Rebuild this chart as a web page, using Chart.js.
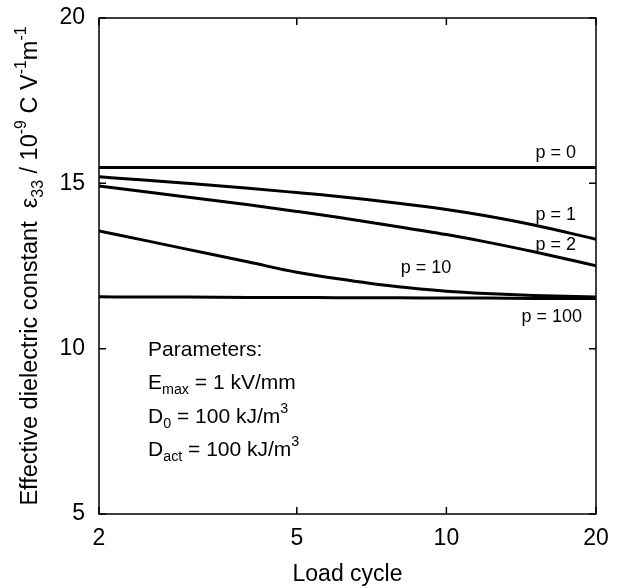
<!DOCTYPE html>
<html><head><meta charset="utf-8">
<script src="https://cdn.jsdelivr.net/npm/chart.js@4/dist/chart.umd.min.js"></script>
<style>html,body{margin:0;padding:0;background:#fff}</style>
</head><body>
<canvas id="c" width="621" height="588"></canvas>
<script>
// ---- data ----
const cycles = [2, 2.5, 3, 4, 5, 6, 8, 10, 12, 15, 20];
const p0   = [15.48, 15.48, 15.48, 15.48, 15.48, 15.48, 15.48, 15.48, 15.48, 15.48, 15.48];
const p1   = [15.20, 15.09, 15.00, 14.85, 14.72, 14.61, 14.40, 14.21, 14.02, 13.74, 13.31];
const p2   = [14.92, 14.74, 14.59, 14.35, 14.15, 13.98, 13.69, 13.45, 13.23, 12.93, 12.51];
const p10  = [13.56, 13.26, 13.01, 12.62, 12.31, 12.12, 11.87, 11.74, 11.67, 11.61, 11.56];
const p100 = [11.57, 11.56, 11.56, 11.55, 11.55, 11.54, 11.54, 11.53, 11.53, 11.52, 11.52];
const seriesNames = ['p = 0', 'p = 1', 'p = 2', 'p = 10', 'p = 100'];
const xTickValues = [2, 5, 10, 20];
const yTickValues = [5, 10, 15, 20];
const xTitle = 'Load cycle';

const FONT = '"Liberation Sans", Arial, Helvetica, sans-serif';
const allSeries = [p0, p1, p2, p10, p100];

const datasets = allSeries.map((vals, i) => ({
  label: seriesNames[i],
  data: cycles.map((c, j) => ({x: c, y: vals[j]})),
  borderColor: '#000',
  borderWidth: 3,
  pointRadius: 0,
  fill: false,
  cubicInterpolationMode: 'monotone'
}));

function richWidth(ctx, segs, size) {
  let w = 0;
  segs.forEach(s => {
    ctx.font = (s.s ? size * 0.68 : size) + 'px ' + FONT;
    w += ctx.measureText(s.t).width;
  });
  return w;
}
function drawRich(ctx, segs, x, y, size) {
  let cx = x;
  ctx.textBaseline = 'middle';
  ctx.textAlign = 'left';
  segs.forEach(s => {
    const sz = s.s ? size * 0.68 : size;
    ctx.font = sz + 'px ' + FONT;
    let dy = 0;
    if (s.s === 'sub') dy = size * 0.34;
    if (s.s === 'sup') dy = -size * 0.38;
    ctx.fillText(s.t, cx, y + dy);
    cx += ctx.measureText(s.t).width;
  });
}

const decor = {
  id: 'decor',
  afterDatasetsDraw(chart) {
    const {ctx, chartArea: a, scales: {x, y}} = chart;
    ctx.save();
    ctx.strokeStyle = '#000';
    ctx.lineWidth = 1.5;
    ctx.strokeRect(a.left, a.top, a.right - a.left, a.bottom - a.top);
    const tl = 7;
    ctx.beginPath();
    xTickValues.forEach(v => {
      const px = x.getPixelForValue(v);
      ctx.moveTo(px, a.bottom); ctx.lineTo(px, a.bottom - tl);
      ctx.moveTo(px, a.top); ctx.lineTo(px, a.top + tl);
    });
    yTickValues.forEach(v => {
      const py = y.getPixelForValue(v);
      ctx.moveTo(a.left, py); ctx.lineTo(a.left + tl, py);
      ctx.moveTo(a.right, py); ctx.lineTo(a.right - tl, py);
    });
    ctx.stroke();

    ctx.fillStyle = '#000';
    ctx.font = '18px ' + FONT;
    ctx.textAlign = 'center';
    ctx.textBaseline = 'middle';
    const anchors = [[16.6, 15.93], [16.6, 14.04], [16.6, 13.13], [9.1, 12.43], [16.3, 10.97]];
    seriesNames.forEach((n, i) => {
      ctx.fillText(n, x.getPixelForValue(anchors[i][0]), y.getPixelForValue(anchors[i][1]));
    });

    const px0 = x.getPixelForValue(2.51);
    const psize = 21;
    const lines = [
      [{t: 'Parameters:'}],
      [{t: 'E'}, {t: 'max', s: 'sub'}, {t: ' = 1 kV/mm'}],
      [{t: 'D'}, {t: '0', s: 'sub'}, {t: ' = 100 kJ/m'}, {t: '3', s: 'sup'}],
      [{t: 'D'}, {t: 'act', s: 'sub'}, {t: ' = 100 kJ/m'}, {t: '3', s: 'sup'}]
    ];
    const ly = [9.94, 8.97, 7.94, 6.94];
    lines.forEach((segs, i) => drawRich(ctx, segs, px0, y.getPixelForValue(ly[i]), psize));

    const ysize = 23.5;
    const ysegs = [
      {t: 'Effective dielectric constant  \u03B5'}, {t: '33', s: 'sub'},
      {t: ' / 10'}, {t: '-9', s: 'sup'}, {t: ' C V'}, {t: '-1', s: 'sup'},
      {t: 'm'}, {t: '-1', s: 'sup'}
    ];
    const w = richWidth(ctx, ysegs, ysize);
    ctx.translate(31, 266);
    ctx.rotate(-Math.PI / 2);
    drawRich(ctx, ysegs, -w / 2, 0, ysize);
    ctx.restore();
  }
};

new Chart(document.getElementById('c'), {
  type: 'line',
  data: {datasets},
  options: {
    responsive: false,
    devicePixelRatio: 1,
    animation: false,
    layout: {padding: {top: 18, right: 25, left: 0, bottom: 0}},
    plugins: {legend: {display: false}, tooltip: {enabled: false}},
    scales: {
      x: {
        type: 'logarithmic',
        min: 2, max: 20,
        grid: {display: false, drawTicks: false},
        border: {display: false},
        afterBuildTicks: s => { s.ticks = xTickValues.map(v => ({value: v})); },
        afterFit: s => { s.height = 74; s.paddingLeft = 0; s.paddingRight = 0; },
        ticks: {
          color: '#000', font: {family: FONT, size: 23}, padding: 11,
          maxRotation: 0, autoSkip: false,
          callback: v => String(v)
        },
        title: {display: true, text: xTitle, color: '#000', font: {family: FONT, size: 23}, padding: {top: 0, bottom: 0}}
      },
      y: {
        type: 'linear',
        min: 5, max: 20,
        grid: {display: false, drawTicks: false},
        border: {display: false},
        afterBuildTicks: s => { s.ticks = yTickValues.map(v => ({value: v})); },
        afterFit: s => { s.width = 99; s.paddingTop = 0; s.paddingBottom = 0; },
        ticks: {color: '#000', font: {family: FONT, size: 23}, padding: 14}
      }
    }
  },
  plugins: [decor]
});
</script>
</body></html>
